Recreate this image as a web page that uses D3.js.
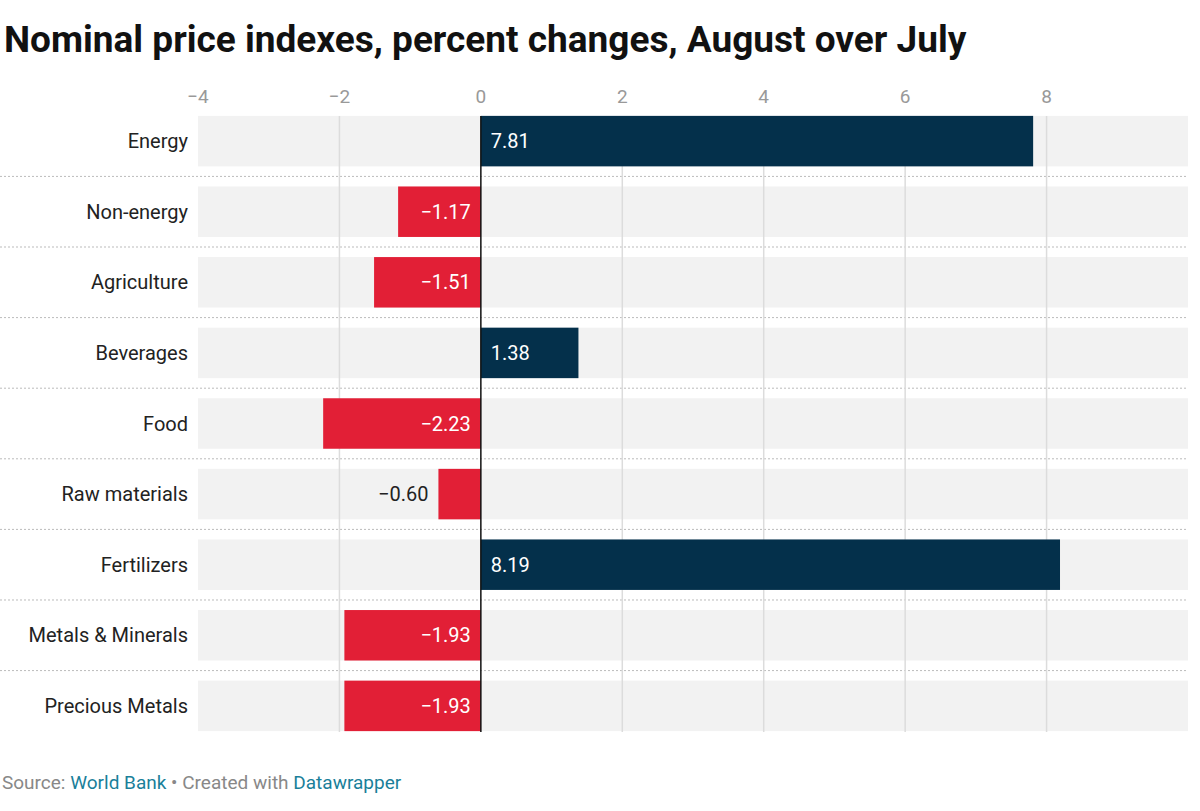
<!DOCTYPE html>
<html><head><meta charset="utf-8">
<script src="https://cdn.jsdelivr.net/npm/d3@7"></script>
<style>body{margin:0;background:#fff;font-family:Roboto,"Noto Sans",sans-serif;}</style>
</head><body><svg id="c" width="1200" height="811"></svg>
<script>
const categories=["Energy","Non-energy","Agriculture","Beverages","Food","Raw materials","Fertilizers","Metals & Minerals","Precious Metals"];
const values=[7.81,-1.17,-1.51,1.38,-2.23,-0.60,8.19,-1.93,-1.93];
const ticks=[-4,-2,0,2,4,6,8];
const svg=d3.select("#c");
const x=d3.scaleLinear().domain([-4,10]).range([198,1188]);
const y=d3.scaleBand().domain(categories).range([106,741]).paddingInner(0.285).paddingOuter(0.14);
svg.append("text").attr("x",4).attr("y",52).attr("font-size",37).attr("font-weight",700).attr("fill","#111").text("Nominal price indexes, percent changes, August over July");
const g=svg.append("g");
categories.forEach((c,i)=>{
  g.append("rect").attr("x",x(-4)).attr("width",x(10)-x(-4)).attr("y",y(c)).attr("height",y.bandwidth()).attr("fill","#f2f2f2");
  if(i>0) g.append("line").attr("x1",0).attr("x2",1188).attr("y1",y(c)-y.step()*0.285/2).attr("y2",y(c)-y.step()*0.285/2).attr("stroke","#bbb").attr("stroke-dasharray","2,2");
});
ticks.forEach(t=>{
  if(t!==0&&t!==-4) g.append("line").attr("x1",x(t)).attr("x2",x(t)).attr("y1",116).attr("y2",732).attr("stroke","#dcdcdc").attr("stroke-width",1.5);
  svg.append("text").attr("x",x(t)).attr("y",103).attr("text-anchor","middle").attr("font-size",19).attr("fill","#999").text(t<0?"\u2212"+(-t):t);
});
categories.forEach((c,i)=>{
  const v=values[i];
  g.append("rect").attr("x",x(Math.min(0,v))).attr("width",Math.abs(x(v)-x(0))).attr("y",y(c)).attr("height",y.bandwidth()).attr("fill",v>0?"#04304b":"#e21f36");
  const cy=y(c)+y.bandwidth()/2+7;
  svg.append("text").attr("x",188).attr("y",cy).attr("text-anchor","end").attr("font-size",20).attr("fill","#222").text(c);
  const lbl=(v<0?"\u2212":"")+Math.abs(v).toFixed(2);
  if(v>0) svg.append("text").attr("x",x(0)+10).attr("y",cy).attr("font-size",20).attr("fill","#fff").text(lbl);
  else if(Math.abs(x(v)-x(0))>70) svg.append("text").attr("x",x(0)-10).attr("y",cy).attr("text-anchor","end").attr("font-size",20).attr("fill","#fff").text(lbl);
  else svg.append("text").attr("x",x(v)-10).attr("y",cy).attr("text-anchor","end").attr("font-size",20).attr("fill","#222").text(lbl);
});
svg.append("line").attr("x1",x(0)).attr("x2",x(0)).attr("y1",116).attr("y2",732).attr("stroke","#111").attr("stroke-width",1.5);
const s=svg.append("text").attr("x",2).attr("y",789).attr("font-size",19).attr("fill","#888");
s.append("tspan").text("Source: ");
s.append("tspan").attr("fill","#1a7f9a").text("World Bank");
s.append("tspan").text(" \u2022 Created with ");
s.append("tspan").attr("fill","#1a7f9a").text("Datawrapper");
</script></body></html>
